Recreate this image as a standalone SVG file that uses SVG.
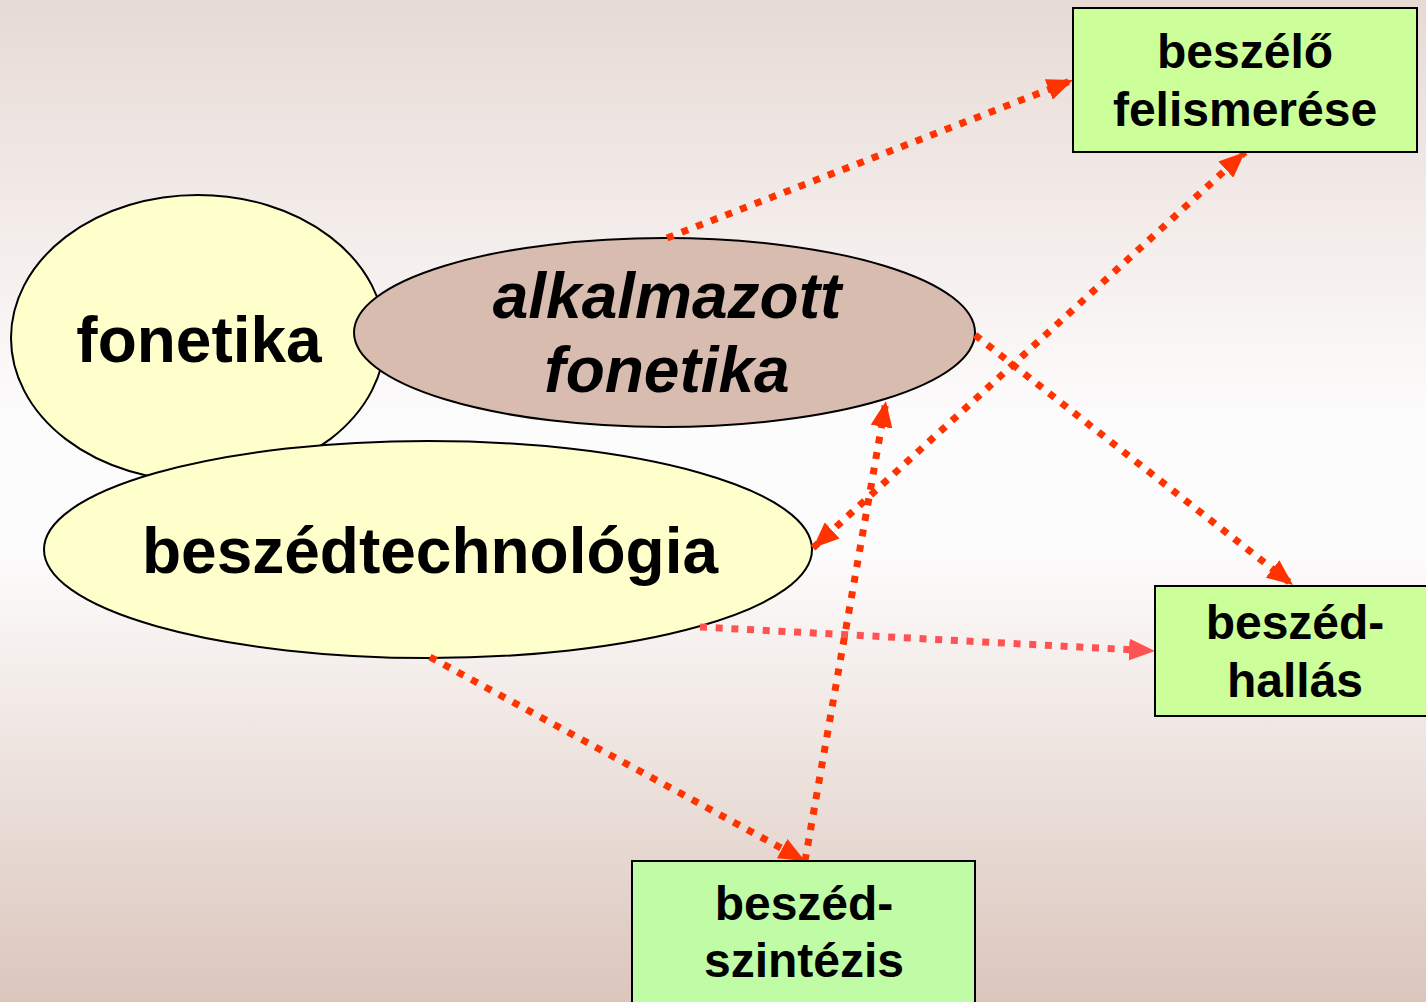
<svg xmlns="http://www.w3.org/2000/svg" width="1426" height="1002" viewBox="0 0 1426 1002">
  <defs>
    <linearGradient id="bg" x1="0" y1="0" x2="0" y2="1">
      <stop offset="0" stop-color="#e7dad5"/>
      <stop offset="0.42" stop-color="#fdfcfc"/>
      <stop offset="0.55" stop-color="#fdfcfc"/>
      <stop offset="1" stop-color="#dbc6bc"/>
    </linearGradient>
    <marker id="ah" markerUnits="userSpaceOnUse" markerWidth="27" markerHeight="22" refX="26" refY="11" orient="auto-start-reverse">
      <path d="M0,0 L26,11 L0,22 z" fill="#ff3300"/>
    </marker>
    <marker id="ah2" markerUnits="userSpaceOnUse" markerWidth="27" markerHeight="22" refX="26" refY="11" orient="auto-start-reverse">
      <path d="M0,0 L26,11 L0,22 z" fill="#ff5252"/>
    </marker>
  </defs>
  <style>
    .ell { stroke: #000; stroke-width: 2; }
    .box { fill: #ccff99; stroke: #000; stroke-width: 2; }
    .big { font-family: "Liberation Sans", Arial, sans-serif; font-weight: bold; font-size: 64px; fill: #000; text-anchor: middle; }
    .it { font-style: italic; }
    .small { font-family: "Liberation Sans", Arial, sans-serif; font-weight: bold; font-size: 48px; fill: #000; text-anchor: middle; }
    .conn { fill: none; stroke: #ff3300; stroke-width: 7; stroke-dasharray: 7 8.7; }
    .conn2 { fill: none; stroke: #ff5252; stroke-width: 7; stroke-dasharray: 7 8.7; }
  </style>
  <rect x="0" y="0" width="1426" height="1002" fill="url(#bg)"/>

  <g id="fonetika">
    <ellipse class="ell" cx="198" cy="338" rx="187" ry="143" fill="#ffffcc"/>
    <text class="big" x="199" y="362">fonetika</text>
  </g>
  <g id="alkalmazott-fonetika">
    <ellipse class="ell" cx="664.5" cy="332.5" rx="310.5" ry="94.5" fill="#d9bcb0"/>
    <text class="big it" x="667" y="318">alkalmazott</text>
    <text class="big it" x="667" y="392">fonetika</text>
  </g>
  <g id="beszedtechnologia">
    <ellipse class="ell" cx="428" cy="549.5" rx="384" ry="108.5" fill="#ffffcc"/>
    <text class="big" x="430" y="573">beszédtechnológia</text>
  </g>

  <g id="connectors">
    <line class="conn" x1="667" y1="238" x2="1073" y2="80" marker-end="url(#ah)"/>
    <line class="conn" x1="813" y1="548" x2="1245" y2="152" marker-start="url(#ah)" marker-end="url(#ah)"/>
    <line class="conn" x1="975" y1="335" x2="1293" y2="585" marker-end="url(#ah)"/>
    <line class="conn" x1="805" y1="861" x2="886" y2="401" marker-end="url(#ah)"/>
    <line class="conn" x1="430" y1="657" x2="805" y2="861" marker-end="url(#ah)"/>
    <line class="conn2" x1="700" y1="627" x2="1155" y2="651" marker-end="url(#ah2)"/>
  </g>

  <g id="beszelo-felismerese">
    <rect class="box" x="1073" y="8" width="344" height="144"/>
    <text class="small" x="1245" y="68">beszélő</text>
    <text class="small" x="1245" y="126">felismerése</text>
  </g>
  <g id="beszed-hallas">
    <rect class="box" x="1155" y="586" width="285" height="130"/>
    <text class="small" x="1295" y="639">beszéd-</text>
    <text class="small" x="1295" y="697">hallás</text>
  </g>
  <g id="beszed-szintezis">
    <rect class="box" x="632" y="861" width="343" height="150" style="fill:#c0fba6"/>
    <text class="small" x="804" y="920">beszéd-</text>
    <text class="small" x="804" y="977">szintézis</text>
  </g>
</svg>
